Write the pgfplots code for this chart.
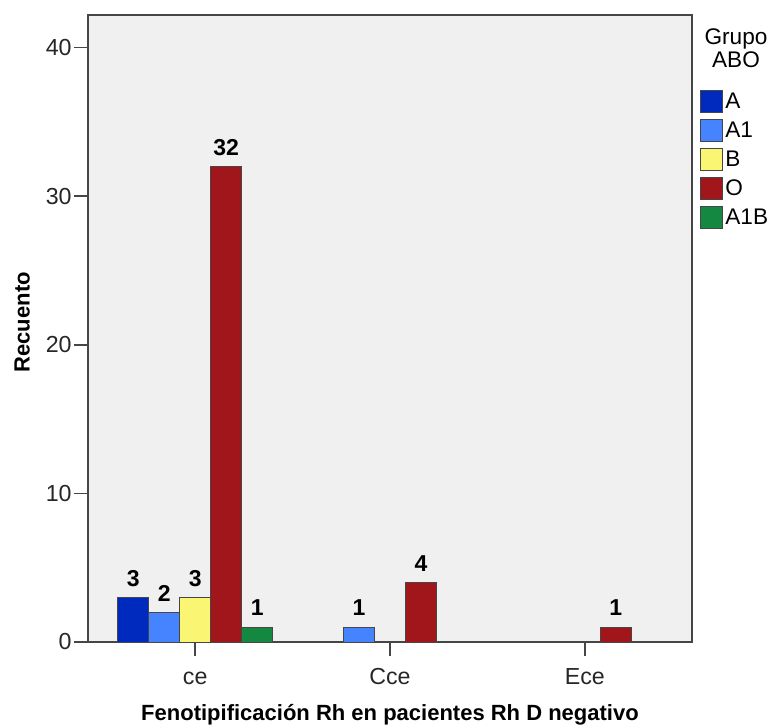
\documentclass[border=0pt]{standalone}
\usepackage{fontspec}
\setmainfont{Liberation Sans}
\usepackage{pgfplots}
\pgfplotsset{compat=1.18}

\definecolor{cA}{RGB}{0,41,190}
\definecolor{cAone}{RGB}{70,132,255}
\definecolor{cB}{RGB}{250,245,115}
\definecolor{cO}{RGB}{160,22,26}
\definecolor{cAoneB}{RGB}{20,136,64}
\definecolor{bg}{RGB}{240,240,240}
\definecolor{frame}{RGB}{70,70,70}

\begin{document}
\begin{tikzpicture}
\useasboundingbox (-44pt,-41pt) rectangle (342pt,321pt);
\begin{axis}[
  at={(0pt,0pt)}, anchor=south west,
  scale only axis, width=302pt, height=313.5pt,
  ybar=0pt, bar width=15.5pt,
  xmin=-0.55, xmax=2.55, ymin=0, ymax=42.2,
  xtick={0,1,2}, xticklabels={ce,Cce,Ece},
  ytick={0,10,20,30,40},
  tick align=outside, tick pos=left,
  major tick length=7pt,
  axis background/.style={fill=bg},
  axis line style={frame, line width=0.8pt},
  every tick/.style={frame, line width=0.8pt},
  tick label style={font=\fontsize{11.6}{13}\selectfont, text=black!85},
  yticklabel style={inner xsep=1pt},
  xticklabel style={yshift=-2.5pt, text height=8.4pt, text depth=0pt},
  /pgf/number format/assume math mode=true,
  xlabel={Fenotipificación Rh en pacientes Rh D negativo},
  ylabel={Recuento},
  every axis x label/.style={at={(axis description cs:0.5,-0.116)}, anchor=center,
    font=\fontsize{11}{13}\selectfont\bfseries},
  every axis y label/.style={at={(axis description cs:-0.109,0.51)}, rotate=90, anchor=center,
    font=\fontsize{11}{13}\selectfont\bfseries},
  nodes near coords,
  every node near coord/.append style={font=\bfseries\fontsize{11.5}{13}\selectfont, yshift=2pt, text=black},
  every axis plot/.append style={draw=frame, line width=0.5pt},
  legend image code/.code={\draw[#1] (0pt,-5.5pt) rectangle (11pt,5.5pt);},
  legend style={at={(1,1)}, anchor=north west, xshift=4pt, yshift=-37.5pt,
    draw=none, fill=none, inner sep=0pt, row sep=3pt,
    font=\fontsize{11.3}{13}\selectfont,
    nodes={inner sep=1pt}, cells={anchor=west}},
]
\addplot[fill=cA] coordinates {(0,3)};
\addplot[fill=cAone] coordinates {(0,2) (1,1)};
\addplot[fill=cB] coordinates {(0,3)};
\addplot[fill=cO] coordinates {(0,32) (1,4) (2,1)};
\addplot[fill=cAoneB] coordinates {(0,1)};
\legend{A,A1,B,O,A1B}
\end{axis}
% legend title on two lines
\node[font=\fontsize{11.3}{13}\selectfont, anchor=base, inner sep=0pt] at (324pt,298.6pt) {Grupo};
\node[font=\fontsize{11.3}{13}\selectfont, anchor=base, inner sep=0pt] at (324pt,287.3pt) {ABO};
\end{tikzpicture}
\end{document}
